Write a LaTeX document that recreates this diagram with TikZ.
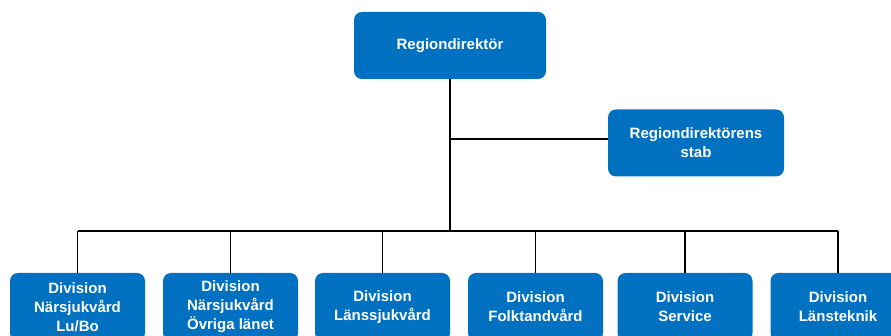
\documentclass[tikz,border=0pt]{standalone}
\usepackage{fontspec}
\setmainfont{Liberation Sans}
\usepackage{xcolor}
\usepackage{tikz}
\usetikzlibrary{positioning}
\definecolor{regionblue}{RGB}{0,112,192}

\begin{document}
\begin{tikzpicture}[x=1pt, y=1pt,
	box/.style={fill=regionblue, draw=none, rounded corners=8pt, text=white, align=center, inner sep=0pt, minimum height=67pt, font=\fontsize{15}{19}\selectfont\bfseries},
	link/.style={draw=black, line width=1.6pt}]
	  \useasboundingbox (0,0) rectangle (891,336);
	  \node[box, minimum width=192pt] (rd) at (450,290.5) {Regiondirektör};
	  \node[box, minimum width=176pt] (stab) at (696,193) {Regiondirektörens\\stab};
	  \coordinate (bus) at (450,105);
	  \foreach \x/\name/\txt in {77.5/lubo/{Division\\Närsjukvård\\Lu/Bo}, 230.5/ovriga/{Division\\Närsjukvård\\Övriga länet}, 382.5/lans/{Division\\Länssjukvård}, 535.5/folk/{Division\\Folktandvård}, 685/service/{Division\\Service}, 838/teknik/{Division\\Länsteknik}}
	    \node[box, minimum width=135pt, minimum height=68pt] (\name) at (\x,29) {\txt};
	  \draw[link] (rd.south) -- (bus);
	  \draw[link] (rd.south |- stab.west) ++(0,4) -- ([yshift=4pt]stab.west);
	  \draw[link] (lubo.north |- bus) -- (teknik.north |- bus);
	  \foreach \name in {lubo,ovriga,lans,folk,service,teknik}
	    \draw[link] (\name.north |- bus) -- (\name.north);
	\end{tikzpicture}
\end{document}
